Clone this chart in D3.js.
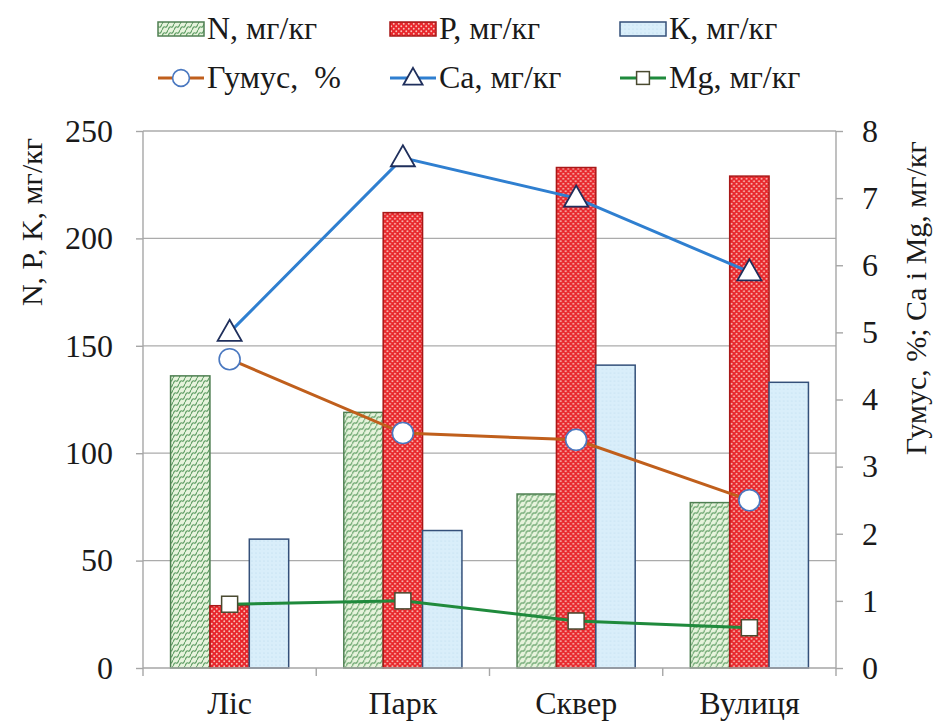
<!DOCTYPE html>
<html>
<head>
<meta charset="utf-8">
<script src="https://cdn.jsdelivr.net/npm/d3@7"></script>
<style>
  html, body { margin: 0; padding: 0; background: #fff; }
  svg { display: block; }
</style>
</head>
<body>
<svg id="chart" width="938" height="724"></svg>
<script>
// Sites and measured soil parameters
const categories = ["Ліс", "Парк", "Сквер", "Вулиця"];
const nValues = [136, 119, 81, 77];      // N, мг/кг
const pValues = [29, 212, 233, 229];     // P, мг/кг
const kValues = [60, 64, 141, 133];      // K, мг/кг
const humusValues = [4.6, 3.5, 3.4, 2.5]; // Гумус, %
const caValues = [5.0, 7.6, 7.0, 5.9];    // Ca, мг/кг
const mgValues = [0.95, 1.0, 0.7, 0.6];   // Mg, мг/кг
const leftTicks = [0, 50, 100, 150, 200, 250];
const rightTicks = [0, 1, 2, 3, 4, 5, 6, 7, 8];

// Use a serif face when one is installed, otherwise a sans face at a slightly smaller size
function fontAvailable(name) {
  const ctx = document.createElement("canvas").getContext("2d");
  const sample = "250 Гумус Mg мг/кг";
  for (const base of ["monospace", "sans-serif"]) {
    ctx.font = `40px ${base}`;
    const w0 = ctx.measureText(sample).width;
    ctx.font = `40px "${name}", ${base}`;
    if (Math.abs(ctx.measureText(sample).width - w0) > 0.5) return true;
  }
  return false;
}
const serifFace = ["Liberation Serif", "Tinos", "Times New Roman", "DejaVu Serif", "Noto Serif", "FreeSerif"]
  .find(fontAvailable);
const fontFamily = serifFace ? `'${serifFace}', serif` : "'Liberation Sans', Arial, sans-serif";
const fs = k => Math.round(k * (serifFace ? 1 : 0.92));

const svg = d3.select("#chart").attr("font-family", fontFamily);
const plot = { left: 143, right: 836, top: 131, bottom: 668 };

const x0 = d3.scaleBand().domain(categories).range([plot.left, plot.right]).padding(0);
const barKeys = ["N", "P", "K"];
const x1 = d3.scaleBand().domain(barKeys).range([0, x0.bandwidth()]).paddingInner(0).paddingOuter(0.7);
const yL = d3.scaleLinear().domain([0, 250]).range([plot.bottom, plot.top]);
const yR = d3.scaleLinear().domain([0, 8]).range([plot.bottom, plot.top]);

// Fill patterns for the bars
const defs = svg.append("defs");
const pN = defs.append("pattern").attr("id", "patN").attr("patternUnits", "userSpaceOnUse")
  .attr("width", 6).attr("height", 6);
pN.append("rect").attr("width", 6).attr("height", 6).attr("fill", "#e6f3dc");
pN.append("path").attr("d", "M0,6 Q1.5,2 3,3 T6,0").attr("fill", "none").attr("stroke", "#5f9e64").attr("stroke-width", 1.1);
pN.append("path").attr("d", "M-3,3 L0,0 M6,6 L9,3").attr("fill", "none").attr("stroke", "#5f9e64").attr("stroke-width", 1.1);

const pP = defs.append("pattern").attr("id", "patP").attr("patternUnits", "userSpaceOnUse")
  .attr("width", 5).attr("height", 5);
pP.append("rect").attr("width", 5).attr("height", 5).attr("fill", "#e8262b");
pP.append("circle").attr("cx", 1.25).attr("cy", 1.25).attr("r", 0.95).attr("fill", "#f8c0b8");
pP.append("circle").attr("cx", 3.75).attr("cy", 3.75).attr("r", 0.95).attr("fill", "#f8c0b8");

const pK = defs.append("pattern").attr("id", "patK").attr("patternUnits", "userSpaceOnUse")
  .attr("width", 4).attr("height", 4);
pK.append("rect").attr("width", 4).attr("height", 4).attr("fill", "#d9eefa");
pK.append("circle").attr("cx", 1).attr("cy", 1).attr("r", 0.6).attr("fill", "#b8d8ee");

const barStyles = {
  N: { fill: "url(#patN)", stroke: "#4f7f52" },
  P: { fill: "url(#patP)", stroke: "#a81818" },
  K: { fill: "url(#patK)", stroke: "#34507a" }
};

// Horizontal gridlines
svg.append("g").selectAll("line").data(leftTicks.filter(t => t > 0)).join("line")
  .attr("x1", plot.left).attr("x2", plot.right)
  .attr("y1", d => yL(d)).attr("y2", d => yL(d))
  .attr("stroke", "#ababab").attr("stroke-width", 1.3);

// Bars
const barData = categories.map((c, i) => ({ c, N: nValues[i], P: pValues[i], K: kValues[i] }));
const groups = svg.append("g").selectAll("g").data(barData).join("g")
  .attr("transform", d => `translate(${x0(d.c)},0)`);
groups.selectAll("rect").data(d => barKeys.map(k => ({ k, v: d[k] }))).join("rect")
  .attr("x", d => x1(d.k))
  .attr("width", x1.bandwidth())
  .attr("y", d => yL(d.v))
  .attr("height", d => yL(0) - yL(d.v))
  .attr("fill", d => barStyles[d.k].fill)
  .attr("stroke", d => barStyles[d.k].stroke)
  .attr("stroke-width", 1.5);

// Axes
const axisColor = "#a6a6a6";
const leftAxis = svg.append("g").attr("transform", `translate(${plot.left},0)`)
  .call(d3.axisLeft(yL).tickValues(leftTicks).tickSize(7).tickPadding(23));
const rightAxis = svg.append("g").attr("transform", `translate(${plot.right},0)`)
  .call(d3.axisRight(yR).tickValues(rightTicks).tickSize(7).tickPadding(19));
const bottomAxis = svg.append("g").attr("transform", `translate(0,${plot.bottom})`)
  .call(d3.axisBottom(x0).tickSize(0));
[leftAxis, rightAxis, bottomAxis].forEach(a => {
  a.attr("font-family", fontFamily);
  a.select(".domain").attr("stroke", axisColor).attr("stroke-width", 1.4);
  a.selectAll(".tick line").attr("stroke", axisColor).attr("stroke-width", 1.4);
  a.selectAll("text").attr("font-size", fs(32)).attr("fill", "#1a1a1a");
});
leftAxis.select(".domain").attr("d", `M0,${plot.top}V${plot.bottom}`);
rightAxis.select(".domain").attr("d", `M0,${plot.top}V${plot.bottom}`);
bottomAxis.select(".domain").attr("d", `M${plot.left},0H${plot.right}`);
bottomAxis.selectAll(".tick text").attr("y", 46).attr("dy", 0).attr("font-size", fs(32));
// Category separators on the x axis
svg.append("g").selectAll("line").data(categories.map(c => x0(c) + x0.bandwidth()).concat([plot.left])).join("line")
  .attr("x1", d => d).attr("x2", d => d)
  .attr("y1", plot.bottom).attr("y2", plot.bottom + 8)
  .attr("stroke", axisColor).attr("stroke-width", 1.4);

// Lines on the right axis
const cx = c => x0(c) + x0.bandwidth() / 2;
const line = d3.line().x(d => cx(d.c)).y(d => yR(d.v));
const lineSeries = [
  { name: "humus", values: humusValues, color: "#c05f1c", marker: "circle", mstroke: "#4a78c0" },
  { name: "ca", values: caValues, color: "#2f7fd0", marker: "triangle", mstroke: "#1f2f5c" },
  { name: "mg", values: mgValues, color: "#1f8a3c", marker: "square", mstroke: "#4a4a30" }
];

function drawMarker(g, type, stroke, x, y, scale) {
  const s = scale || 1;
  if (type === "circle") {
    g.append("circle").attr("cx", x).attr("cy", y).attr("r", 10.5 * s)
      .attr("fill", "#fff").attr("stroke", stroke).attr("stroke-width", 1.6);
  } else if (type === "triangle") {
    const h = 21 * s, w = 24 * s;
    g.append("path").attr("d", `M${x},${y - h * 0.6}L${x + w / 2},${y + h * 0.4}L${x - w / 2},${y + h * 0.4}Z`)
      .attr("fill", "#fff").attr("stroke", stroke).attr("stroke-width", 1.8);
  } else {
    const a = 16 * s;
    g.append("rect").attr("x", x - a / 2).attr("y", y - a / 2).attr("width", a).attr("height", a)
      .attr("fill", "#fff").attr("stroke", stroke).attr("stroke-width", 1.5);
  }
}

lineSeries.forEach(s => {
  const pts = categories.map((c, i) => ({ c, v: s.values[i] }));
  svg.append("path").datum(pts).attr("d", line)
    .attr("fill", "none").attr("stroke", s.color).attr("stroke-width", 3);
  const mg = svg.append("g");
  pts.forEach(p => drawMarker(mg, s.marker, s.mstroke, cx(p.c), yR(p.v)));
});

// Axis titles
svg.append("text").attr("transform", "translate(42,222) rotate(-90)")
  .attr("text-anchor", "middle").attr("font-size", fs(30)).attr("fill", "#1a1a1a").text("N, P, K, мг/кг");
svg.append("text").attr("transform", "translate(926,298) rotate(-90)")
  .attr("text-anchor", "middle").attr("font-size", fs(30)).attr("fill", "#1a1a1a").text("Гумус, %; Са і Mg, мг/кг");

// Legend
const legend = svg.append("g");
const barLegend = [
  { key: "N", label: "N, мг/кг", x: 158 },
  { key: "P", label: "P, мг/кг", x: 390 },
  { key: "K", label: "К, мг/кг", x: 620 }
];
barLegend.forEach(b => {
  legend.append("rect").attr("x", b.x).attr("y", 22).attr("width", 46).attr("height", 14)
    .attr("fill", barStyles[b.key].fill).attr("stroke", barStyles[b.key].stroke).attr("stroke-width", 1.5);
  legend.append("text").attr("x", b.x + 49).attr("y", 39).attr("font-size", fs(32)).attr("fill", "#1a1a1a").text(b.label);
});
const lineLegend = [
  { s: lineSeries[0], label: "Гумус,  %", x: 158 },
  { s: lineSeries[1], label: "Са, мг/кг", x: 390 },
  { s: lineSeries[2], label: "Mg, мг/кг", x: 620 }
];
lineLegend.forEach(l => {
  legend.append("line").attr("x1", l.x).attr("x2", l.x + 46).attr("y1", 78).attr("y2", 78)
    .attr("stroke", l.s.color).attr("stroke-width", 3);
  drawMarker(legend, l.s.marker, l.s.mstroke, l.x + 23, 78, 0.8);
  legend.append("text").attr("x", l.x + 49).attr("y", 88).attr("font-size", fs(32)).attr("fill", "#1a1a1a")
    .style("white-space", "pre").text(l.label);
});
</script>
</body>
</html>
